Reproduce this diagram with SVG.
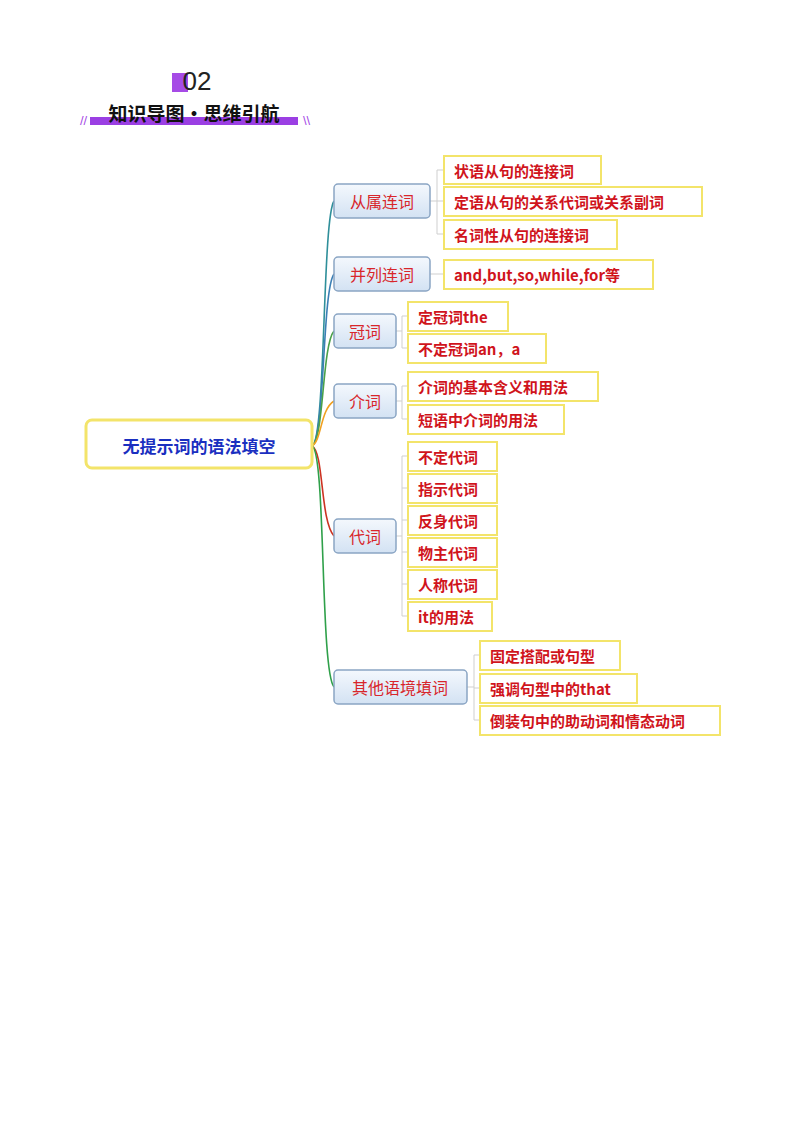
<svg xmlns="http://www.w3.org/2000/svg" width="800" height="1134" viewBox="0 0 800 1134">
<defs>
<linearGradient id="bg" x1="0" y1="0" x2="0" y2="1"><stop offset="0" stop-color="#f4f8fd"/><stop offset="1" stop-color="#d3e2f3"/></linearGradient>
<style>
.br rect{fill:url(#bg);stroke:#8aa5c4;stroke-width:1.5}
.br text{fill:#d8262b;font-family:"Noto Sans CJK SC",sans-serif;font-size:16px;text-anchor:middle;dominant-baseline:central}
.lf rect{fill:#fff;stroke:#f3e46a;stroke-width:2}
.lf text{fill:#d0141c;font-family:"Noto Sans CJK SC",sans-serif;font-size:15px;font-weight:bold;dominant-baseline:central}
.c path{fill:none;stroke-width:1.6}
.g path{fill:none;stroke:#cfcfcf;stroke-width:1}
</style>
</defs>
<rect width="800" height="1134" fill="#fff"/>
<g id="header">
<rect x="172" y="73" width="16" height="19" fill="#a64be6"/>
<text x="197" y="90" font-family="Liberation Sans,sans-serif" font-size="26" text-anchor="middle" fill="#222">02</text>
<rect x="90" y="117" width="208" height="8" fill="#9b3fe3"/>
<text x="194" y="121" font-family="Noto Sans CJK SC,sans-serif" font-size="19" font-weight="bold" text-anchor="middle" fill="#111">知识导图•思维引航</text>
<text x="80" y="125" font-family="Liberation Sans,sans-serif" font-size="13" fill="#a64be6">//</text>
<text x="303" y="125" font-family="Liberation Sans,sans-serif" font-size="13" fill="#a64be6">\\</text>
</g>
<g id="connectors" class="c">
<path d="M312,446 C326,440 322,220 334,201" stroke="#2f8f9a"/>
<path d="M312,446 C325,440 322,290 334,274" stroke="#3b7fb5"/>
<path d="M312,446 C324,440 322,345 334,331" stroke="#4aa14a"/>
<path d="M312,446 C322,440 320,410 334,401" stroke="#f0a020"/>
<path d="M312,446 C324,452 320,520 334,536" stroke="#cc3322"/>
<path d="M312,446 C326,452 320,670 334,687" stroke="#2fa04a"/>
</g>
<g class="g">
<path d="M430,201 H437 M437,170 V234 M437,170 H444 M437,201 H444 M437,234 H444"/>
<path d="M430,274 H444"/>
<path d="M396,331 H402 M402,316 V348 M402,316 H408 M402,348 H408"/>
<path d="M396,401 H402 M402,386 V419 M402,386 H408 M402,419 H408"/>
<path d="M396,536 H402 M402,456 V616 M402,456 H408 M402,488 H408 M402,520 H408 M402,552 H408 M402,584 H408 M402,616 H408"/>
<path d="M467,687 H474 M474,655 V720 M474,655 H480 M474,688 H480 M474,720 H480"/>
</g>
<g id="center"><rect x="86" y="420" width="226" height="48" rx="6" fill="#fff" stroke="#f3e46a" stroke-width="3"/><text x="199" y="445" font-family="Noto Sans CJK SC,sans-serif" font-size="17" font-weight="bold" fill="#1a2fc0" text-anchor="middle" dominant-baseline="central">无提示词的语法填空</text></g>
<g id="b1" class="br"><rect x="334" y="184" width="96" height="34" rx="4"/><text x="382" y="201">从属连词</text></g>
<g id="b2" class="br"><rect x="334" y="257" width="96" height="34" rx="4"/><text x="382" y="274">并列连词</text></g>
<g id="b3" class="br"><rect x="334" y="314" width="62" height="34" rx="4"/><text x="365" y="331">冠词</text></g>
<g id="b4" class="br"><rect x="334" y="384" width="62" height="34" rx="4"/><text x="365" y="401">介词</text></g>
<g id="b5" class="br"><rect x="334" y="519" width="62" height="34" rx="4"/><text x="365" y="536">代词</text></g>
<g id="b6" class="br"><rect x="334" y="670" width="133" height="34" rx="4"/><text x="400" y="687">其他语境填词</text></g>
<g id="l1" class="lf"><rect x="444" y="156" width="157" height="28"/><text x="454" y="170">状语从句的连接词</text></g>
<g id="l2" class="lf"><rect x="444" y="187" width="258" height="29"/><text x="454" y="201">定语从句的关系代词或关系副词</text></g>
<g id="l3" class="lf"><rect x="444" y="220" width="173" height="29"/><text x="454" y="234">名词性从句的连接词</text></g>
<g id="l4" class="lf"><rect x="444" y="260" width="209" height="29"/><text x="454" y="274">and,but,so,while,for等</text></g>
<g id="l5" class="lf"><rect x="408" y="302" width="100" height="29"/><text x="418" y="316">定冠词the</text></g>
<g id="l6" class="lf"><rect x="408" y="334" width="138" height="29"/><text x="418" y="348">不定冠词an，a</text></g>
<g id="l7" class="lf"><rect x="408" y="372" width="190" height="29"/><text x="418" y="386">介词的基本含义和用法</text></g>
<g id="l8" class="lf"><rect x="408" y="405" width="156" height="29"/><text x="418" y="419">短语中介词的用法</text></g>
<g id="l9" class="lf"><rect x="408" y="442" width="89" height="29"/><text x="418" y="456">不定代词</text></g>
<g id="l10" class="lf"><rect x="408" y="474" width="89" height="29"/><text x="418" y="488">指示代词</text></g>
<g id="l11" class="lf"><rect x="408" y="506" width="89" height="29"/><text x="418" y="520">反身代词</text></g>
<g id="l12" class="lf"><rect x="408" y="538" width="89" height="29"/><text x="418" y="552">物主代词</text></g>
<g id="l13" class="lf"><rect x="408" y="570" width="89" height="29"/><text x="418" y="584">人称代词</text></g>
<g id="l14" class="lf"><rect x="408" y="602" width="84" height="29"/><text x="418" y="616">it的用法</text></g>
<g id="l15" class="lf"><rect x="480" y="641" width="140" height="29"/><text x="490" y="655">固定搭配或句型</text></g>
<g id="l16" class="lf"><rect x="480" y="674" width="157" height="29"/><text x="490" y="688">强调句型中的that</text></g>
<g id="l17" class="lf"><rect x="480" y="706" width="240" height="29"/><text x="490" y="720">倒装句中的助动词和情态动词</text></g>
</svg>
